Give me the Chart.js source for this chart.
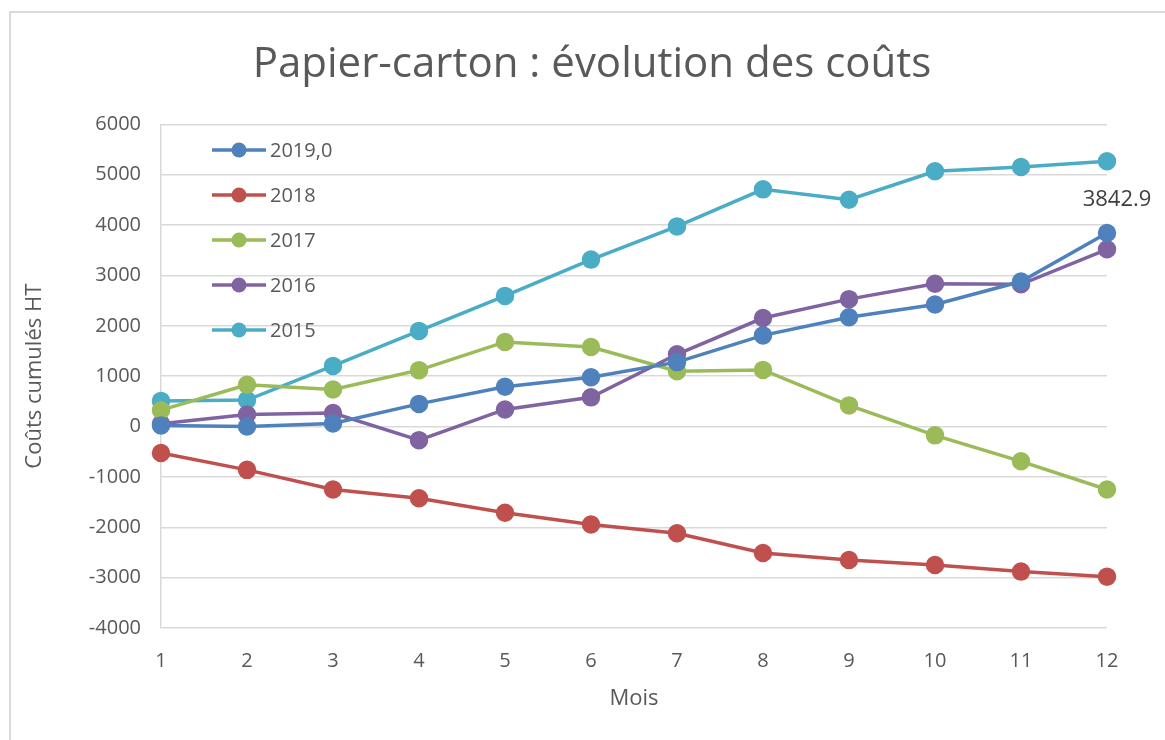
<!DOCTYPE html>
<html lang="fr">
<head>
  <meta charset="UTF-8" />
  <title>Papier-carton : évolution des coûts</title>
  <script src="https://cdn.jsdelivr.net/npm/chart.js"></script>
  <style>
    html, body { margin: 0; padding: 0; background: #fff; overflow: hidden; }
    .frame { position: absolute; left: 9px; top: 11px; width: 1200px; height: 800px;
             border-left: 2px solid #d9d9d9; border-top: 2px solid #d9d9d9; }
    #costChart { position: absolute; left: 0; top: 0; }
  </style>
</head>
<body>
  <div class="frame"></div>
  <canvas id="costChart" width="1165" height="740"></canvas>

  <script>
    // Cumulated monthly costs per year
    const months = ['1', '2', '3', '4', '5', '6', '7', '8', '9', '10', '11', '12'];
    const costs2019 = [20, 0, 60, 450, 790, 980, 1280, 1810, 2170, 2425, 2880, 3842.9];
    const costs2018 = [-525, -860, -1250, -1425, -1710, -1945, -2120, -2510, -2650, -2750, -2880, -2980];
    const costs2017 = [325, 830, 735, 1120, 1680, 1580, 1100, 1125, 420, -175, -690, -1250];
    const costs2016 = [55, 240, 270, -270, 340, 580, 1435, 2155, 2530, 2835, 2825, 3520];
    const costs2015 = [510, 525, 1205, 1900, 2595, 3315, 3975, 4710, 4505, 5070, 5155, 5268];
    const yTicks = [-4000, -3000, -2000, -1000, 0, 1000, 2000, 3000, 4000, 5000, 6000];

    const FONT = "'Open Sans', sans-serif";
    const GREY = '#595959';

    function serie(label, data, color) {
      return {
        label, data,
        borderColor: color, backgroundColor: color,
        pointBackgroundColor: color, pointBorderColor: color,
        borderWidth: 3.5, pointRadius: 7.5, pointHoverRadius: 7.5,
        tension: 0
      };
    }

    // legend drawn inside the plot, top-left
    const innerLegend = {
      id: 'innerLegend',
      afterDraw(chart) {
        const ctx = chart.ctx;
        ctx.save();
        ctx.font = '20px ' + FONT;
        ctx.textBaseline = 'middle';
        ctx.textAlign = 'left';
        chart.data.datasets.forEach((ds, i) => {
          const y = 150 + i * 45;
          ctx.strokeStyle = ds.borderColor;
          ctx.lineWidth = 3.5;
          ctx.beginPath();
          ctx.moveTo(212, y);
          ctx.lineTo(266, y);
          ctx.stroke();
          ctx.fillStyle = ds.borderColor;
          ctx.beginPath();
          ctx.arc(239, y, 7.5, 0, Math.PI * 2);
          ctx.fill();
          ctx.fillStyle = GREY;
          ctx.fillText(ds.label, 270, y + 1);
        });
        ctx.restore();
      }
    };

    // value label on the last 2019 point
    const lastLabel = {
      id: 'lastLabel',
      afterDatasetsDraw(chart) {
        const meta = chart.getDatasetMeta(0);
        const pt = meta.data[meta.data.length - 1];
        const value = chart.data.datasets[0].data[meta.data.length - 1];
        const ctx = chart.ctx;
        ctx.save();
        ctx.font = '22px ' + FONT;
        ctx.fillStyle = '#404040';
        ctx.textAlign = 'center';
        ctx.textBaseline = 'middle';
        ctx.fillText(String(value), pt.x + 10, pt.y - 33);
        ctx.restore();
      }
    };

    const tickFont = { family: FONT, size: 20 };
    const titleFont = { family: FONT, size: 22 };

    new Chart(document.getElementById('costChart'), {
      type: 'line',
      data: {
        labels: months,
        datasets: [
          serie('2019,0', costs2019, '#4f81bd'),
          serie('2018', costs2018, '#c0504d'),
          serie('2017', costs2017, '#9bbb59'),
          serie('2016', costs2016, '#8064a2'),
          serie('2015', costs2015, '#4bacc6')
        ]
      },
      options: {
        responsive: false,
        animation: false,
        devicePixelRatio: 1,
        layout: { padding: { left: 19, right: 0, top: 0, bottom: 0 } },
        plugins: {
          legend: { display: false },
          tooltip: { enabled: false },
          title: {
            display: true,
            text: 'Papier-carton : évolution des coûts',
            color: GREY,
            font: { family: FONT, size: 42, weight: 'normal' },
            padding: { top: 40, bottom: 34 }
          }
        },
        scales: {
          x: {
            grid: { display: false, drawTicks: false },
            border: { display: false },
            ticks: { color: GREY, font: tickFont, padding: 21, maxRotation: 0 },
            title: { display: true, text: 'Mois', color: GREY, font: titleFont, padding: { top: 0, bottom: 28 } },
            afterFit(scale) { scale.height = 112; }
          },
          y: {
            min: -4000, max: 6000,
            afterBuildTicks(scale) { scale.ticks = yTicks.map(v => ({ value: v })); },
            grid: { color: '#d9d9d9', lineWidth: 1.5, drawTicks: false },
            border: { display: true, color: '#d9d9d9', width: 1.5 },
            ticks: { color: GREY, font: tickFont, padding: 20, callback: v => String(v) },
            title: { display: true, text: 'Coûts cumulés HT', color: GREY, font: titleFont, padding: { top: 3, bottom: 0 } },
            afterFit(scale) { scale.width = 142; }
          },
          // empty right-hand margin, keeps the plot clear of the right edge
          yRight: {
            position: 'right',
            grid: { display: false, drawTicks: false },
            border: { display: false },
            ticks: { display: false },
            afterFit(scale) { scale.width = 58; }
          }
        }
      },
      plugins: [innerLegend, lastLabel]
    });
  </script>
</body>
</html>
